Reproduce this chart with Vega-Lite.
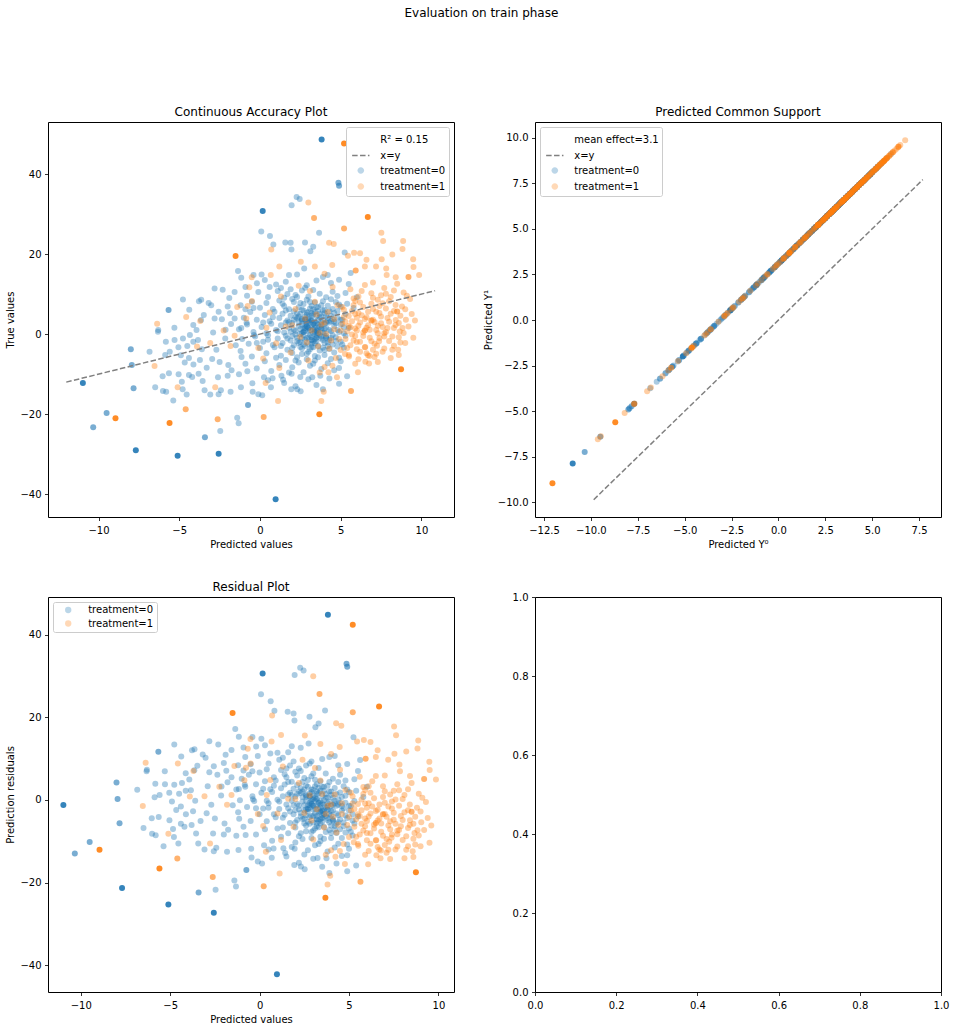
{
  "$schema": "https://vega.github.io/schema/vega-lite/v6.json",
  "title": {"text": "Evaluation on train phase", "anchor": "middle", "offset": 86, "dx": 4, "fontSize": 12, "fontWeight": "normal"},
  "padding": {"left": 5, "top": 6, "right": 12, "bottom": 5},
  "columns": 2,
  "spacing": {"row": 80, "column": 81},
  "bounds": "flush",
  "resolve": {
    "scale": {"color": "independent", "fill": "independent", "stroke": "independent", "shape": "independent", "strokeDash": "independent"},
    "legend": {"color": "independent", "fill": "independent", "stroke": "independent", "shape": "independent", "strokeDash": "independent"}
  },
  "datasets": {
    "lineA": [{"x": -12.0, "y": -12.0}, {"x": 10.85, "y": 10.85}],
    "lineB": [{"x": -9.85, "y": -9.85}, {"x": 7.7, "y": 7.7}],
    "blank": [{"x": 0, "y": 0}],
    "pts": [
      {"g":0,"p":3.82,"t":48.65,"r":44.83,"a":3.82,"b":6.92,"w":4},
      {"g":0,"p":4.86,"t":37.8,"r":32.94,"a":4.86,"b":7.96,"w":2},
      {"g":0,"p":4.9,"t":37.1,"r":32.2,"a":4.9,"b":8.0,"w":2},
      {"g":0,"p":2.27,"t":34.25,"r":31.98,"a":2.27,"b":5.37},
      {"g":0,"p":2.46,"t":33.75,"r":31.29,"a":2.46,"b":5.56},
      {"g":0,"p":1.96,"t":32.2,"r":30.24,"a":1.96,"b":5.06},
      {"g":0,"p":0.17,"t":30.75,"r":30.58,"a":0.17,"b":3.27,"w":4},
      {"g":0,"p":0.08,"t":25.65,"r":25.57,"a":0.08,"b":3.18},
      {"g":0,"p":0.62,"t":24.5,"r":23.88,"a":0.62,"b":3.72},
      {"g":0,"p":3.66,"t":25.3,"r":21.64,"a":3.66,"b":6.76},
      {"g":0,"p":0.83,"t":22.4,"r":21.57,"a":0.83,"b":3.93},
      {"g":0,"p":1.57,"t":22.9,"r":21.33,"a":1.57,"b":4.67},
      {"g":0,"p":1.9,"t":22.8,"r":20.9,"a":1.9,"b":5.0},
      {"g":0,"p":1.95,"t":21.15,"r":19.2,"a":1.95,"b":5.05},
      {"g":0,"p":2.79,"t":22.9,"r":20.11,"a":2.79,"b":5.89},
      {"g":0,"p":3.12,"t":20.7,"r":17.58,"a":3.12,"b":6.22},
      {"g":0,"p":3.3,"t":21.8,"r":18.5,"a":3.3,"b":6.4},
      {"g":0,"p":5.25,"t":20.4,"r":15.15,"a":5.25,"b":8.35},
      {"g":0,"p":5.62,"t":15.3,"r":9.68,"a":5.62,"b":8.72},
      {"g":0,"p":4.2,"t":14.8,"r":10.6,"a":4.2,"b":7.3},
      {"g":0,"p":2.74,"t":16.4,"r":13.66,"a":2.74,"b":5.84},
      {"g":0,"p":1.8,"t":14.8,"r":13.0,"a":1.8,"b":4.9},
      {"g":0,"p":0.1,"t":14.9,"r":14.8,"a":0.1,"b":3.2},
      {"g":0,"p":-1.36,"t":15.8,"r":17.16,"a":-1.36,"b":1.74},
      {"g":0,"p":-1.16,"t":14.1,"r":15.26,"a":-1.16,"b":1.94},
      {"g":0,"p":-2.81,"t":11.4,"r":14.21,"a":-2.81,"b":0.29},
      {"g":0,"p":-2.31,"t":11.1,"r":13.41,"a":-2.31,"b":0.79},
      {"g":0,"p":-1.57,"t":10.5,"r":12.07,"a":-1.57,"b":1.53},
      {"g":0,"p":-0.19,"t":12.7,"r":12.89,"a":-0.19,"b":2.91},
      {"g":0,"p":-4.77,"t":8.65,"r":13.42,"a":-4.77,"b":-1.67},
      {"g":0,"p":-5.66,"t":6.0,"r":11.66,"a":-5.66,"b":-2.56,"w":2},
      {"g":0,"p":-6.32,"t":0.6,"r":6.92,"a":-6.32,"b":-3.22},
      {"g":0,"p":-6.3,"t":1.0,"r":7.3,"a":-6.3,"b":-3.2},
      {"g":0,"p":-6.84,"t":-4.4,"r":2.44,"a":-6.84,"b":-3.74},
      {"g":0,"p":-8.0,"t":-3.8,"r":4.2,"a":-8.0,"b":-4.9,"w":2},
      {"g":0,"p":-7.94,"t":-7.7,"r":0.24,"a":-7.94,"b":-4.84,"w":2},
      {"g":0,"p":-10.97,"t":-12.2,"r":-1.23,"a":-10.97,"b":-7.87,"w":4},
      {"g":0,"p":-7.83,"t":-13.5,"r":-5.67,"a":-7.83,"b":-4.73,"w":2},
      {"g":0,"p":-9.5,"t":-19.7,"r":-10.2,"a":-9.5,"b":-6.4,"w":2},
      {"g":0,"p":-10.33,"t":-23.3,"r":-12.97,"a":-10.33,"b":-7.23,"w":2},
      {"g":0,"p":-7.69,"t":-29.0,"r":-21.31,"a":-7.69,"b":-4.59,"w":4},
      {"g":0,"p":-5.1,"t":-30.4,"r":-25.3,"a":-5.1,"b":-2.0,"w":4},
      {"g":0,"p":-2.56,"t":-29.9,"r":-27.34,"a":-2.56,"b":0.54,"w":4},
      {"g":0,"p":-3.41,"t":-25.8,"r":-22.39,"a":-3.41,"b":-0.31,"w":2},
      {"g":0,"p":-2.46,"t":-24.2,"r":-21.74,"a":-2.46,"b":0.64},
      {"g":0,"p":-1.41,"t":-20.9,"r":-19.49,"a":-1.41,"b":1.69},
      {"g":0,"p":-1.32,"t":-22.3,"r":-20.98,"a":-1.32,"b":1.78},
      {"g":0,"p":-0.74,"t":-17.7,"r":-16.96,"a":-0.74,"b":2.36,"w":2},
      {"g":0,"p":0.97,"t":-41.25,"r":-42.22,"a":0.97,"b":4.07,"w":4},
      {"g":0,"p":-6.03,"t":-10.5,"r":-4.47,"a":-6.03,"b":-2.93},
      {"g":0,"p":-5.64,"t":-9.8,"r":-4.16,"a":-5.64,"b":-2.54},
      {"g":0,"p":-6.49,"t":-13.3,"r":-6.81,"a":-6.49,"b":-3.39},
      {"g":0,"p":-6.01,"t":-14.2,"r":-8.19,"a":-6.01,"b":-2.91},
      {"g":0,"p":-5.81,"t":-14.4,"r":-8.59,"a":-5.81,"b":-2.71},
      {"g":0,"p":-5.37,"t":-16.6,"r":-11.23,"a":-5.37,"b":-2.27},
      {"g":0,"p":-4.79,"t":-13.8,"r":-9.01,"a":-4.79,"b":-1.69},
      {"g":0,"p":-4.54,"t":-15.1,"r":-10.56,"a":-4.54,"b":-1.44},
      {"g":0,"p":-4.84,"t":-11.9,"r":-7.06,"a":-4.84,"b":-1.74},
      {"g":0,"p":-5.04,"t":-10.0,"r":-4.96,"a":-5.04,"b":-1.94},
      {"g":0,"p":-4.4,"t":-10.2,"r":-5.8,"a":-4.4,"b":-1.3},
      {"g":0,"p":-4.2,"t":-10.7,"r":-6.5,"a":-4.2,"b":-1.1},
      {"g":0,"p":-3.8,"t":-9.9,"r":-6.1,"a":-3.8,"b":-0.7},
      {"g":0,"p":-3.55,"t":-11.7,"r":-8.15,"a":-3.55,"b":-0.45},
      {"g":0,"p":-3.43,"t":-14.0,"r":-10.57,"a":-3.43,"b":-0.33},
      {"g":0,"p":-3.08,"t":-15.1,"r":-12.02,"a":-3.08,"b":0.02},
      {"g":0,"p":-2.56,"t":-15.0,"r":-12.44,"a":-2.56,"b":0.54},
      {"g":0,"p":-2.42,"t":-14.0,"r":-11.58,"a":-2.42,"b":0.68},
      {"g":0,"p":-1.82,"t":-14.4,"r":-12.58,"a":-1.82,"b":1.28},
      {"g":0,"p":-1.18,"t":-13.3,"r":-12.12,"a":-1.18,"b":1.92},
      {"g":0,"p":-0.47,"t":-12.3,"r":-11.83,"a":-0.47,"b":2.63},
      {"g":0,"p":-0.45,"t":-14.4,"r":-13.95,"a":-0.45,"b":2.65},
      {"g":0,"p":-1.14,"t":-5.7,"r":-4.56,"a":-1.14,"b":1.96},
      {"g":0,"p":-1.76,"t":-9.0,"r":-7.24,"a":-1.76,"b":1.34},
      {"g":0,"p":-1.3,"t":-10.0,"r":-8.7,"a":-1.3,"b":1.8},
      {"g":0,"p":-0.78,"t":-9.3,"r":-8.52,"a":-0.78,"b":2.32},
      {"g":0,"p":-1.96,"t":-7.7,"r":-5.74,"a":-1.96,"b":1.14},
      {"g":0,"p":-2.6,"t":-10.75,"r":-8.15,"a":-2.6,"b":0.5},
      {"g":0,"p":-2.96,"t":-6.2,"r":-3.24,"a":-2.96,"b":0.14},
      {"g":0,"p":-3.3,"t":-8.4,"r":-5.1,"a":-3.3,"b":-0.2},
      {"g":0,"p":-3.72,"t":-6.5,"r":-2.78,"a":-3.72,"b":-0.62},
      {"g":0,"p":-4.12,"t":-7.6,"r":-3.48,"a":-4.12,"b":-1.02},
      {"g":0,"p":-4.4,"t":-6.0,"r":-1.6,"a":-4.4,"b":-1.3},
      {"g":0,"p":-4.66,"t":-7.1,"r":-2.44,"a":-4.66,"b":-1.56},
      {"g":0,"p":-4.9,"t":-5.3,"r":-0.4,"a":-4.9,"b":-1.8},
      {"g":0,"p":-5.87,"t":-5.25,"r":0.62,"a":-5.87,"b":-2.77},
      {"g":0,"p":-5.59,"t":-4.4,"r":1.19,"a":-5.59,"b":-2.49},
      {"g":0,"p":-5.29,"t":-1.5,"r":3.79,"a":-5.29,"b":-2.19},
      {"g":0,"p":-5.83,"t":-1.9,"r":3.93,"a":-5.83,"b":-2.73},
      {"g":0,"p":-4.77,"t":-1.1,"r":3.67,"a":-4.77,"b":-1.67},
      {"g":0,"p":-4.5,"t":-3.0,"r":1.5,"a":-4.5,"b":-1.4},
      {"g":0,"p":-4.13,"t":-1.9,"r":2.23,"a":-4.13,"b":-1.03},
      {"g":0,"p":-3.84,"t":-1.5,"r":2.34,"a":-3.84,"b":-0.74},
      {"g":0,"p":-4.34,"t":-0.25,"r":4.09,"a":-4.34,"b":-1.24},
      {"g":0,"p":-4.13,"t":2.3,"r":6.43,"a":-4.13,"b":-1.03},
      {"g":0,"p":-3.93,"t":1.0,"r":4.93,"a":-3.93,"b":-0.83},
      {"g":0,"p":-3.65,"t":3.5,"r":7.15,"a":-3.65,"b":-0.55},
      {"g":0,"p":-3.48,"t":4.8,"r":8.28,"a":-3.48,"b":-0.38},
      {"g":0,"p":-3.18,"t":7.8,"r":10.98,"a":-3.18,"b":-0.08},
      {"g":0,"p":-3.02,"t":7.2,"r":10.22,"a":-3.02,"b":0.08},
      {"g":0,"p":-3.64,"t":8.6,"r":12.24,"a":-3.64,"b":-0.54},
      {"g":0,"p":-2.81,"t":3.9,"r":6.71,"a":-2.81,"b":0.29},
      {"g":0,"p":-2.56,"t":5.6,"r":8.16,"a":-2.56,"b":0.54},
      {"g":0,"p":-2.36,"t":3.7,"r":6.06,"a":-2.36,"b":0.74},
      {"g":0,"p":-2.13,"t":1.1,"r":3.23,"a":-2.13,"b":0.97},
      {"g":0,"p":-1.79,"t":2.5,"r":4.29,"a":-1.79,"b":1.31},
      {"g":0,"p":-1.57,"t":3.9,"r":5.47,"a":-1.57,"b":1.53},
      {"g":0,"p":-1.86,"t":5.2,"r":7.06,"a":-1.86,"b":1.24},
      {"g":0,"p":-0.83,"t":2.85,"r":3.68,"a":-0.83,"b":2.27},
      {"g":0,"p":-0.4,"t":6.5,"r":6.9,"a":-0.4,"b":2.7},
      {"g":0,"p":-1.16,"t":1.5,"r":2.66,"a":-1.16,"b":1.94},
      {"g":0,"p":-0.37,"t":-0.2,"r":0.17,"a":-0.37,"b":2.73},
      {"g":0,"p":-2.15,"t":-1.1,"r":1.05,"a":-2.15,"b":0.95},
      {"g":0,"p":-2.5,"t":-7.0,"r":-4.5,"a":-2.5,"b":0.6},
      {"g":0,"p":-2.0,"t":-10.4,"r":-8.4,"a":-2.0,"b":1.1},
      {"g":0,"p":1.94,"t":-13.8,"r":-15.74,"a":1.94,"b":5.04},
      {"g":0,"p":2.31,"t":-13.8,"r":-16.11,"a":2.31,"b":5.41},
      {"g":0,"p":2.52,"t":-14.3,"r":-16.82,"a":2.52,"b":5.62},
      {"g":0,"p":0.14,"t":-15.25,"r":-15.39,"a":0.14,"b":3.24},
      {"g":0,"p":-0.1,"t":-15.0,"r":-14.9,"a":-0.1,"b":3.0},
      {"g":0,"p":0.68,"t":-13.3,"r":-13.98,"a":0.68,"b":3.78},
      {"g":0,"p":0.25,"t":-10.75,"r":-11.0,"a":0.25,"b":3.35},
      {"g":0,"p":0.78,"t":-11.0,"r":-11.78,"a":0.78,"b":3.88},
      {"g":0,"p":1.33,"t":-10.4,"r":-11.73,"a":1.33,"b":4.43},
      {"g":0,"p":1.43,"t":-11.4,"r":-12.83,"a":1.43,"b":4.53},
      {"g":0,"p":1.96,"t":-9.9,"r":-11.86,"a":1.96,"b":5.06},
      {"g":0,"p":3.0,"t":-11.25,"r":-14.25,"a":3.0,"b":6.1},
      {"g":0,"p":3.24,"t":-10.8,"r":-14.04,"a":3.24,"b":6.34},
      {"g":0,"p":3.74,"t":-10.4,"r":-14.14,"a":3.74,"b":6.84},
      {"g":0,"p":4.9,"t":-8.5,"r":-13.4,"a":4.9,"b":8.0},
      {"g":0,"p":-4.38,"t":6.1,"r":10.48,"a":-4.38,"b":-1.28},
      {"g":0,"p":-3.78,"t":8.2,"r":11.98,"a":-3.78,"b":-0.68},
      {"g":0,"p":-5.3,"t":1.6,"r":6.9,"a":-5.3,"b":-2.2},
      {"g":0,"p":-5.05,"t":-3.3,"r":1.75,"a":-5.05,"b":-1.95},
      {"g":0,"p":-2.9,"t":0.4,"r":3.3,"a":-2.9,"b":0.2},
      {"g":0,"p":-2.7,"t":-3.9,"r":-1.2,"a":-2.7,"b":0.4},
      {"g":0,"p":-1.5,"t":-2.8,"r":-1.3,"a":-1.5,"b":1.6},
      {"g":0,"p":-3.6,"t":-3.8,"r":-0.2,"a":-3.6,"b":-0.5},
      {"g":0,"p":-1.9,"t":9.0,"r":10.9,"a":-1.9,"b":1.2},
      {"g":0,"p":-0.9,"t":11.8,"r":12.7,"a":-0.9,"b":2.2},
      {"g":0,"p":-2.0,"t":6.9,"r":8.9,"a":-2.0,"b":1.1},
      {"g":0,"p":-0.4,"t":14.8,"r":15.2,"a":-0.4,"b":2.7},
      {"g":0,"p":0.3,"t":13.5,"r":13.2,"a":0.3,"b":3.4},
      {"g":0,"p":1.0,"t":12.4,"r":11.4,"a":1.0,"b":4.1},
      {"g":0,"p":1.6,"t":13.1,"r":11.5,"a":1.6,"b":4.7},
      {"g":0,"p":2.3,"t":14.9,"r":12.6,"a":2.3,"b":5.4},
      {"g":0,"p":2.9,"t":12.2,"r":9.3,"a":2.9,"b":6.0},
      {"g":0,"p":3.5,"t":13.4,"r":9.9,"a":3.5,"b":6.6},
      {"g":0,"p":3.9,"t":14.3,"r":10.4,"a":3.9,"b":7.0},
      {"g":0,"p":4.4,"t":12.8,"r":8.4,"a":4.4,"b":7.5},
      {"g":0,"p":4.9,"t":13.6,"r":8.7,"a":4.9,"b":8.0},
      {"g":0,"p":5.5,"t":12.5,"r":7.0,"a":5.5,"b":8.6},
      {"g":0,"p":0.6,"t":11.8,"r":11.2,"a":0.6,"b":3.7},
      {"g":0,"p":-0.8,"t":9.6,"r":10.4,"a":-0.8,"b":2.3},
      {"g":0,"p":-0.1,"t":10.5,"r":10.6,"a":-0.1,"b":3.0},
      {"g":0,"p":0.5,"t":9.3,"r":8.8,"a":0.5,"b":3.6},
      {"g":0,"p":1.1,"t":10.8,"r":9.7,"a":1.1,"b":4.2},
      {"g":0,"p":1.5,"t":9.1,"r":7.6,"a":1.5,"b":4.6},
      {"g":0,"p":1.9,"t":11.2,"r":9.3,"a":1.9,"b":5.0},
      {"g":0,"p":2.2,"t":9.8,"r":7.6,"a":2.2,"b":5.3},
      {"g":0,"p":2.6,"t":10.9,"r":8.3,"a":2.6,"b":5.7},
      {"g":0,"p":3.0,"t":9.4,"r":6.4,"a":3.0,"b":6.1},
      {"g":0,"p":3.3,"t":11.0,"r":7.7,"a":3.3,"b":6.4},
      {"g":0,"p":3.7,"t":10.1,"r":6.4,"a":3.7,"b":6.8},
      {"g":0,"p":4.1,"t":9.2,"r":5.1,"a":4.1,"b":7.2},
      {"g":0,"p":4.5,"t":10.6,"r":6.1,"a":4.5,"b":7.6},
      {"g":0,"p":4.8,"t":9.5,"r":4.7,"a":4.8,"b":7.9},
      {"g":0,"p":5.3,"t":10.3,"r":5.0,"a":5.3,"b":8.4},
      {"g":0,"p":6.0,"t":9.2,"r":3.2,"a":6.0,"b":9.1},
      {"g":0,"p":2.8,"t":11.6,"r":8.8,"a":2.8,"b":5.9},
      {"g":0,"p":1.3,"t":11.5,"r":10.2,"a":1.3,"b":4.4},
      {"g":0,"p":-1.2,"t":7.2,"r":8.4,"a":-1.2,"b":1.9},
      {"g":0,"p":-0.5,"t":8.1,"r":8.6,"a":-0.5,"b":2.6},
      {"g":0,"p":0.0,"t":6.6,"r":6.6,"a":0.0,"b":3.1},
      {"g":0,"p":0.4,"t":7.8,"r":7.4,"a":0.4,"b":3.5},
      {"g":0,"p":0.8,"t":6.3,"r":5.5,"a":0.8,"b":3.9},
      {"g":0,"p":1.2,"t":8.4,"r":7.2,"a":1.2,"b":4.3},
      {"g":0,"p":1.5,"t":7.0,"r":5.5,"a":1.5,"b":4.6},
      {"g":0,"p":1.8,"t":6.2,"r":4.4,"a":1.8,"b":4.9},
      {"g":0,"p":2.1,"t":8.0,"r":5.9,"a":2.1,"b":5.2},
      {"g":0,"p":2.4,"t":6.7,"r":4.3,"a":2.4,"b":5.5},
      {"g":0,"p":2.7,"t":7.5,"r":4.8,"a":2.7,"b":5.8},
      {"g":0,"p":2.9,"t":8.6,"r":5.7,"a":2.9,"b":6.0},
      {"g":0,"p":3.1,"t":6.4,"r":3.3,"a":3.1,"b":6.2},
      {"g":0,"p":3.4,"t":7.9,"r":4.5,"a":3.4,"b":6.5},
      {"g":0,"p":3.6,"t":6.8,"r":3.2,"a":3.6,"b":6.7},
      {"g":0,"p":3.9,"t":8.2,"r":4.3,"a":3.9,"b":7.0},
      {"g":0,"p":4.2,"t":7.1,"r":2.9,"a":4.2,"b":7.3},
      {"g":0,"p":4.5,"t":6.3,"r":1.8,"a":4.5,"b":7.6},
      {"g":0,"p":4.7,"t":8.0,"r":3.3,"a":4.7,"b":7.8},
      {"g":0,"p":5.0,"t":6.9,"r":1.9,"a":5.0,"b":8.1},
      {"g":0,"p":5.4,"t":7.6,"r":2.2,"a":5.4,"b":8.5},
      {"g":0,"p":5.8,"t":6.5,"r":0.7,"a":5.8,"b":8.9},
      {"g":0,"p":2.0,"t":8.8,"r":6.8,"a":2.0,"b":5.1},
      {"g":0,"p":3.2,"t":7.0,"r":3.8,"a":3.2,"b":6.3},
      {"g":0,"p":4.0,"t":6.0,"r":2.0,"a":4.0,"b":7.1},
      {"g":0,"p":-0.9,"t":6.2,"r":7.1,"a":-0.9,"b":2.2},
      {"g":0,"p":-1.0,"t":4.1,"r":5.1,"a":-1.0,"b":2.1},
      {"g":0,"p":-0.6,"t":5.5,"r":6.1,"a":-0.6,"b":2.5},
      {"g":0,"p":-0.2,"t":3.6,"r":3.8,"a":-0.2,"b":2.9},
      {"g":0,"p":0.3,"t":4.8,"r":4.5,"a":0.3,"b":3.4},
      {"g":0,"p":0.6,"t":3.2,"r":2.6,"a":0.6,"b":3.7},
      {"g":0,"p":0.9,"t":5.6,"r":4.7,"a":0.9,"b":4.0},
      {"g":0,"p":1.2,"t":4.0,"r":2.8,"a":1.2,"b":4.3},
      {"g":0,"p":1.4,"t":5.1,"r":3.7,"a":1.4,"b":4.5},
      {"g":0,"p":1.7,"t":3.4,"r":1.7,"a":1.7,"b":4.8},
      {"g":0,"p":1.9,"t":4.6,"r":2.7,"a":1.9,"b":5.0},
      {"g":0,"p":2.1,"t":5.7,"r":3.6,"a":2.1,"b":5.2},
      {"g":0,"p":2.3,"t":3.9,"r":1.6,"a":2.3,"b":5.4},
      {"g":0,"p":2.5,"t":5.0,"r":2.5,"a":2.5,"b":5.6},
      {"g":0,"p":2.6,"t":3.3,"r":0.7,"a":2.6,"b":5.7},
      {"g":0,"p":2.8,"t":4.4,"r":1.6,"a":2.8,"b":5.9},
      {"g":0,"p":3.0,"t":5.5,"r":2.5,"a":3.0,"b":6.1},
      {"g":0,"p":3.1,"t":3.7,"r":0.6,"a":3.1,"b":6.2},
      {"g":0,"p":3.3,"t":4.9,"r":1.6,"a":3.3,"b":6.4},
      {"g":0,"p":3.4,"t":3.1,"r":-0.3,"a":3.4,"b":6.5},
      {"g":0,"p":3.6,"t":5.8,"r":2.2,"a":3.6,"b":6.7},
      {"g":0,"p":3.7,"t":4.2,"r":0.5,"a":3.7,"b":6.8},
      {"g":0,"p":3.9,"t":3.5,"r":-0.4,"a":3.9,"b":7.0},
      {"g":0,"p":4.0,"t":5.2,"r":1.2,"a":4.0,"b":7.1},
      {"g":0,"p":4.2,"t":4.0,"r":-0.2,"a":4.2,"b":7.3},
      {"g":0,"p":4.4,"t":3.2,"r":-1.2,"a":4.4,"b":7.5},
      {"g":0,"p":4.6,"t":5.3,"r":0.7,"a":4.6,"b":7.7},
      {"g":0,"p":4.8,"t":4.1,"r":-0.7,"a":4.8,"b":7.9},
      {"g":0,"p":5.1,"t":3.6,"r":-1.5,"a":5.1,"b":8.2},
      {"g":0,"p":5.3,"t":5.0,"r":-0.3,"a":5.3,"b":8.4},
      {"g":0,"p":2.2,"t":4.3,"r":2.1,"a":2.2,"b":5.3},
      {"g":0,"p":2.9,"t":3.0,"r":0.1,"a":2.9,"b":6.0},
      {"g":0,"p":3.5,"t":4.5,"r":1.0,"a":3.5,"b":6.6},
      {"g":0,"p":2.7,"t":5.9,"r":3.2,"a":2.7,"b":5.8},
      {"g":0,"p":3.2,"t":5.2,"r":2.0,"a":3.2,"b":6.3},
      {"g":0,"p":4.3,"t":5.7,"r":1.4,"a":4.3,"b":7.4},
      {"g":0,"p":1.6,"t":5.9,"r":4.3,"a":1.6,"b":4.7},
      {"g":0,"p":-1.3,"t":1.2,"r":2.5,"a":-1.3,"b":1.8},
      {"g":0,"p":-0.8,"t":2.4,"r":3.2,"a":-0.8,"b":2.3},
      {"g":0,"p":-0.4,"t":0.5,"r":0.9,"a":-0.4,"b":2.7},
      {"g":0,"p":0.1,"t":1.8,"r":1.7,"a":0.1,"b":3.2},
      {"g":0,"p":0.4,"t":0.2,"r":-0.2,"a":0.4,"b":3.5},
      {"g":0,"p":0.7,"t":2.6,"r":1.9,"a":0.7,"b":3.8},
      {"g":0,"p":1.0,"t":1.0,"r":0.0,"a":1.0,"b":4.1},
      {"g":0,"p":1.3,"t":2.2,"r":0.9,"a":1.3,"b":4.4},
      {"g":0,"p":1.5,"t":0.4,"r":-1.1,"a":1.5,"b":4.6},
      {"g":0,"p":1.8,"t":1.6,"r":-0.2,"a":1.8,"b":4.9},
      {"g":0,"p":2.0,"t":2.8,"r":0.8,"a":2.0,"b":5.1},
      {"g":0,"p":2.2,"t":0.8,"r":-1.4,"a":2.2,"b":5.3},
      {"g":0,"p":2.4,"t":2.0,"r":-0.4,"a":2.4,"b":5.5},
      {"g":0,"p":2.6,"t":0.3,"r":-2.3,"a":2.6,"b":5.7},
      {"g":0,"p":2.7,"t":1.4,"r":-1.3,"a":2.7,"b":5.8},
      {"g":0,"p":2.9,"t":2.5,"r":-0.4,"a":2.9,"b":6.0},
      {"g":0,"p":3.0,"t":0.6,"r":-2.4,"a":3.0,"b":6.1},
      {"g":0,"p":3.2,"t":1.9,"r":-1.3,"a":3.2,"b":6.3},
      {"g":0,"p":3.3,"t":0.1,"r":-3.2,"a":3.3,"b":6.4},
      {"g":0,"p":3.5,"t":2.7,"r":-0.8,"a":3.5,"b":6.6},
      {"g":0,"p":3.6,"t":1.1,"r":-2.5,"a":3.6,"b":6.7},
      {"g":0,"p":3.8,"t":2.2,"r":-1.6,"a":3.8,"b":6.9},
      {"g":0,"p":3.9,"t":0.4,"r":-3.5,"a":3.9,"b":7.0},
      {"g":0,"p":4.1,"t":1.6,"r":-2.5,"a":4.1,"b":7.2},
      {"g":0,"p":4.3,"t":2.9,"r":-1.4,"a":4.3,"b":7.4},
      {"g":0,"p":4.4,"t":0.7,"r":-3.7,"a":4.4,"b":7.5},
      {"g":0,"p":4.6,"t":2.0,"r":-2.6,"a":4.6,"b":7.7},
      {"g":0,"p":4.8,"t":1.0,"r":-3.8,"a":4.8,"b":7.9},
      {"g":0,"p":5.0,"t":2.4,"r":-2.6,"a":5.0,"b":8.1},
      {"g":0,"p":5.2,"t":0.2,"r":-5.0,"a":5.2,"b":8.3},
      {"g":0,"p":2.5,"t":1.2,"r":-1.3,"a":2.5,"b":5.6},
      {"g":0,"p":3.1,"t":2.9,"r":-0.2,"a":3.1,"b":6.2},
      {"g":0,"p":3.4,"t":1.5,"r":-1.9,"a":3.4,"b":6.5},
      {"g":0,"p":2.8,"t":0.9,"r":-1.9,"a":2.8,"b":5.9},
      {"g":0,"p":4.0,"t":2.6,"r":-1.4,"a":4.0,"b":7.1},
      {"g":0,"p":5.5,"t":1.5,"r":-4.0,"a":5.5,"b":8.6},
      {"g":0,"p":-1.1,"t":-1.2,"r":-0.1,"a":-1.1,"b":2.0},
      {"g":0,"p":-0.7,"t":-2.4,"r":-1.7,"a":-0.7,"b":2.4},
      {"g":0,"p":-0.3,"t":-0.6,"r":-0.3,"a":-0.3,"b":2.8},
      {"g":0,"p":0.2,"t":-1.9,"r":-2.1,"a":0.2,"b":3.3},
      {"g":0,"p":0.5,"t":-0.3,"r":-0.8,"a":0.5,"b":3.6},
      {"g":0,"p":0.8,"t":-2.7,"r":-3.5,"a":0.8,"b":3.9},
      {"g":0,"p":1.1,"t":-1.1,"r":-2.2,"a":1.1,"b":4.2},
      {"g":0,"p":1.4,"t":-2.2,"r":-3.6,"a":1.4,"b":4.5},
      {"g":0,"p":1.6,"t":-0.4,"r":-2.0,"a":1.6,"b":4.7},
      {"g":0,"p":1.9,"t":-1.6,"r":-3.5,"a":1.9,"b":5.0},
      {"g":0,"p":2.1,"t":-2.8,"r":-4.9,"a":2.1,"b":5.2},
      {"g":0,"p":2.3,"t":-0.9,"r":-3.2,"a":2.3,"b":5.4},
      {"g":0,"p":2.5,"t":-2.0,"r":-4.5,"a":2.5,"b":5.6},
      {"g":0,"p":2.7,"t":-0.2,"r":-2.9,"a":2.7,"b":5.8},
      {"g":0,"p":2.8,"t":-1.4,"r":-4.2,"a":2.8,"b":5.9},
      {"g":0,"p":3.0,"t":-2.5,"r":-5.5,"a":3.0,"b":6.1},
      {"g":0,"p":3.2,"t":-0.7,"r":-3.9,"a":3.2,"b":6.3},
      {"g":0,"p":3.3,"t":-1.8,"r":-5.1,"a":3.3,"b":6.4},
      {"g":0,"p":3.5,"t":-0.3,"r":-3.8,"a":3.5,"b":6.6},
      {"g":0,"p":3.6,"t":-2.9,"r":-6.5,"a":3.6,"b":6.7},
      {"g":0,"p":3.8,"t":-1.1,"r":-4.9,"a":3.8,"b":6.9},
      {"g":0,"p":4.0,"t":-2.2,"r":-6.2,"a":4.0,"b":7.1},
      {"g":0,"p":4.1,"t":-0.5,"r":-4.6,"a":4.1,"b":7.2},
      {"g":0,"p":4.3,"t":-1.5,"r":-5.8,"a":4.3,"b":7.4},
      {"g":0,"p":4.5,"t":-2.6,"r":-7.1,"a":4.5,"b":7.6},
      {"g":0,"p":4.7,"t":-0.8,"r":-5.5,"a":4.7,"b":7.8},
      {"g":0,"p":5.0,"t":-1.9,"r":-6.9,"a":5.0,"b":8.1},
      {"g":0,"p":5.3,"t":-0.4,"r":-5.7,"a":5.3,"b":8.4},
      {"g":0,"p":2.9,"t":-1.0,"r":-3.9,"a":2.9,"b":6.0},
      {"g":0,"p":3.4,"t":-2.3,"r":-5.7,"a":3.4,"b":6.5},
      {"g":0,"p":2.2,"t":-0.1,"r":-2.3,"a":2.2,"b":5.3},
      {"g":0,"p":-1.2,"t":-4.2,"r":-3.0,"a":-1.2,"b":1.9},
      {"g":0,"p":-0.5,"t":-5.6,"r":-5.1,"a":-0.5,"b":2.6},
      {"g":0,"p":0.0,"t":-3.5,"r":-3.5,"a":0.0,"b":3.1},
      {"g":0,"p":0.4,"t":-4.8,"r":-5.2,"a":0.4,"b":3.5},
      {"g":0,"p":0.9,"t":-3.3,"r":-4.2,"a":0.9,"b":4.0},
      {"g":0,"p":1.3,"t":-5.4,"r":-6.7,"a":1.3,"b":4.4},
      {"g":0,"p":1.7,"t":-3.9,"r":-5.6,"a":1.7,"b":4.8},
      {"g":0,"p":2.0,"t":-4.7,"r":-6.7,"a":2.0,"b":5.1},
      {"g":0,"p":2.3,"t":-5.8,"r":-8.1,"a":2.3,"b":5.4},
      {"g":0,"p":2.6,"t":-3.6,"r":-6.2,"a":2.6,"b":5.7},
      {"g":0,"p":2.9,"t":-4.9,"r":-7.8,"a":2.9,"b":6.0},
      {"g":0,"p":3.2,"t":-3.2,"r":-6.4,"a":3.2,"b":6.3},
      {"g":0,"p":3.4,"t":-5.5,"r":-8.9,"a":3.4,"b":6.5},
      {"g":0,"p":3.7,"t":-4.1,"r":-7.8,"a":3.7,"b":6.8},
      {"g":0,"p":4.0,"t":-5.2,"r":-9.2,"a":4.0,"b":7.1},
      {"g":0,"p":4.3,"t":-3.7,"r":-8.0,"a":4.3,"b":7.4},
      {"g":0,"p":4.6,"t":-4.6,"r":-9.2,"a":4.6,"b":7.7},
      {"g":0,"p":4.9,"t":-5.9,"r":-10.8,"a":4.9,"b":8.0},
      {"g":0,"p":5.2,"t":-3.4,"r":-8.6,"a":5.2,"b":8.3},
      {"g":0,"p":1.0,"t":-5.9,"r":-6.9,"a":1.0,"b":4.1},
      {"g":0,"p":2.8,"t":-3.0,"r":-5.8,"a":2.8,"b":5.9},
      {"g":0,"p":-0.9,"t":-7.4,"r":-6.5,"a":-0.9,"b":2.2},
      {"g":0,"p":-0.2,"t":-8.6,"r":-8.4,"a":-0.2,"b":2.9},
      {"g":0,"p":0.3,"t":-6.8,"r":-7.1,"a":0.3,"b":3.4},
      {"g":0,"p":0.7,"t":-9.2,"r":-9.9,"a":0.7,"b":3.8},
      {"g":0,"p":1.2,"t":-7.7,"r":-8.9,"a":1.2,"b":4.3},
      {"g":0,"p":1.6,"t":-6.5,"r":-8.1,"a":1.6,"b":4.7},
      {"g":0,"p":2.0,"t":-8.3,"r":-10.3,"a":2.0,"b":5.1},
      {"g":0,"p":2.4,"t":-7.1,"r":-9.5,"a":2.4,"b":5.5},
      {"g":0,"p":2.7,"t":-9.5,"r":-12.2,"a":2.7,"b":5.8},
      {"g":0,"p":3.1,"t":-7.9,"r":-11.0,"a":3.1,"b":6.2},
      {"g":0,"p":3.4,"t":-6.6,"r":-10.0,"a":3.4,"b":6.5},
      {"g":0,"p":3.8,"t":-8.7,"r":-12.5,"a":3.8,"b":6.9},
      {"g":0,"p":4.2,"t":-7.3,"r":-11.5,"a":4.2,"b":7.3},
      {"g":0,"p":4.6,"t":-9.0,"r":-13.6,"a":4.6,"b":7.7},
      {"g":0,"p":5.0,"t":-6.8,"r":-11.8,"a":5.0,"b":8.1},
      {"g":0,"p":1.8,"t":-9.6,"r":-11.4,"a":1.8,"b":4.9},
      {"g":0,"p":2.9,"t":-6.3,"r":-9.2,"a":2.9,"b":6.0},
      {"g":0,"p":0.5,"t":-11.5,"r":-12.0,"a":0.5,"b":3.6},
      {"g":0,"p":1.5,"t":-12.2,"r":-13.7,"a":1.5,"b":4.6},
      {"g":0,"p":2.5,"t":-10.7,"r":-13.2,"a":2.5,"b":5.6},
      {"g":0,"p":3.5,"t":-12.7,"r":-16.2,"a":3.5,"b":6.6},
      {"g":0,"p":4.3,"t":-11.1,"r":-15.4,"a":4.3,"b":7.4},
      {"g":0,"p":4.9,"t":-12.4,"r":-17.3,"a":4.9,"b":8.0},
      {"g":0,"p":5.4,"t":-10.5,"r":-15.9,"a":5.4,"b":8.5},
      {"g":0,"p":2.2,"t":-13.0,"r":-15.2,"a":2.2,"b":5.3},
      {"g":0,"p":3.9,"t":-13.8,"r":-17.7,"a":3.9,"b":7.0},
      {"g":0,"p":2.1,"t":1.1,"r":-1.0,"a":2.1,"b":5.2},
      {"g":0,"p":2.4,"t":3.1,"r":0.7,"a":2.4,"b":5.5},
      {"g":0,"p":2.6,"t":-1.1,"r":-3.7,"a":2.6,"b":5.7},
      {"g":0,"p":2.8,"t":2.1,"r":-0.7,"a":2.8,"b":5.9},
      {"g":0,"p":3.0,"t":4.1,"r":1.1,"a":3.0,"b":6.1},
      {"g":0,"p":3.1,"t":-0.2,"r":-3.3,"a":3.1,"b":6.2},
      {"g":0,"p":3.3,"t":2.6,"r":-0.7,"a":3.3,"b":6.4,"w":2},
      {"g":0,"p":3.5,"t":0.9,"r":-2.6,"a":3.5,"b":6.6,"w":2},
      {"g":0,"p":3.6,"t":3.5,"r":-0.1,"a":3.6,"b":6.7},
      {"g":0,"p":3.8,"t":-0.6,"r":-4.4,"a":3.8,"b":6.9},
      {"g":0,"p":4.0,"t":1.3,"r":-2.7,"a":4.0,"b":7.1},
      {"g":0,"p":4.2,"t":3.3,"r":-0.9,"a":4.2,"b":7.3},
      {"g":0,"p":3.2,"t":-2.4,"r":-5.6,"a":3.2,"b":6.3},
      {"g":0,"p":2.9,"t":4.8,"r":1.9,"a":2.9,"b":6.0},
      {"g":0,"p":3.7,"t":5.1,"r":1.4,"a":3.7,"b":6.8},
      {"g":0,"p":3.4,"t":-1.2,"r":-4.6,"a":3.4,"b":6.5},
      {"g":0,"p":2.5,"t":-3.2,"r":-5.7,"a":2.5,"b":5.6},
      {"g":0,"p":3.9,"t":-3.4,"r":-7.3,"a":3.9,"b":7.0},
      {"g":0,"p":4.1,"t":4.6,"r":0.5,"a":4.1,"b":7.2},
      {"g":0,"p":2.3,"t":5.2,"r":2.9,"a":2.3,"b":5.4},
      {"g":0,"p":3.0,"t":1.6,"r":-1.4,"a":3.0,"b":6.1,"w":2},
      {"g":0,"p":3.2,"t":3.4,"r":0.2,"a":3.2,"b":6.3,"w":2},
      {"g":0,"p":3.5,"t":-0.9,"r":-4.4,"a":3.5,"b":6.6,"w":2},
      {"g":0,"p":2.7,"t":0.5,"r":-2.2,"a":2.7,"b":5.8,"w":2},
      {"g":0,"p":4.4,"t":-1.0,"r":-5.4,"a":4.4,"b":7.5},
      {"g":0,"p":3.3,"t":6.2,"r":2.9,"a":3.3,"b":6.4},
      {"g":0,"p":2.6,"t":2.4,"r":-0.2,"a":2.6,"b":5.7},
      {"g":0,"p":3.8,"t":4.4,"r":0.6,"a":3.8,"b":6.9},
      {"g":0,"p":2.0,"t":-0.5,"r":-2.5,"a":2.0,"b":5.1},
      {"g":0,"p":4.5,"t":3.8,"r":-0.7,"a":4.5,"b":7.6},
      {"g":0,"p":3.1,"t":-3.8,"r":-6.9,"a":3.1,"b":6.2},
      {"g":0,"p":3.6,"t":0.2,"r":-3.4,"a":3.6,"b":6.7,"w":2},
      {"g":0,"p":2.4,"t":-2.2,"r":-4.6,"a":2.4,"b":5.5},
      {"g":0,"p":4.2,"t":-3.0,"r":-7.2,"a":4.2,"b":7.3},
      {"g":0,"p":2.8,"t":3.6,"r":0.8,"a":2.8,"b":5.9,"w":2},
      {"g":0,"p":3.4,"t":5.6,"r":2.2,"a":3.4,"b":6.5},
      {"g":0,"p":1.8,"t":3.0,"r":1.2,"a":1.8,"b":4.9},
      {"g":0,"p":1.7,"t":-1.1,"r":-2.8,"a":1.7,"b":4.8},
      {"g":0,"p":4.7,"t":2.7,"r":-2.0,"a":4.7,"b":7.8},
      {"g":0,"p":4.8,"t":-3.1,"r":-7.9,"a":4.8,"b":7.9},
      {"g":0,"p":1.6,"t":2.9,"r":1.3,"a":1.6,"b":4.7},
      {"g":0,"p":1.9,"t":0.6,"r":-1.3,"a":1.9,"b":5.0},
      {"g":0,"p":2.1,"t":3.6,"r":1.5,"a":2.1,"b":5.2},
      {"g":0,"p":2.3,"t":-1.7,"r":-4.0,"a":2.3,"b":5.4},
      {"g":0,"p":2.4,"t":4.4,"r":2.0,"a":2.4,"b":5.5},
      {"g":0,"p":2.5,"t":0.0,"r":-2.5,"a":2.5,"b":5.6},
      {"g":0,"p":2.6,"t":6.1,"r":3.5,"a":2.6,"b":5.7},
      {"g":0,"p":2.7,"t":-2.6,"r":-5.3,"a":2.7,"b":5.8},
      {"g":0,"p":2.8,"t":1.5,"r":-1.3,"a":2.8,"b":5.9},
      {"g":0,"p":2.9,"t":5.4,"r":2.5,"a":2.9,"b":6.0},
      {"g":0,"p":3.0,"t":-0.9,"r":-3.9,"a":3.0,"b":6.1},
      {"g":0,"p":3.0,"t":3.2,"r":0.2,"a":3.0,"b":6.1},
      {"g":0,"p":3.1,"t":1.0,"r":-2.1,"a":3.1,"b":6.2},
      {"g":0,"p":3.2,"t":4.6,"r":1.4,"a":3.2,"b":6.3},
      {"g":0,"p":3.3,"t":-3.3,"r":-6.6,"a":3.3,"b":6.4},
      {"g":0,"p":3.3,"t":1.2,"r":-2.1,"a":3.3,"b":6.4},
      {"g":0,"p":3.4,"t":2.2,"r":-1.2,"a":3.4,"b":6.5},
      {"g":0,"p":3.5,"t":6.7,"r":3.2,"a":3.5,"b":6.6},
      {"g":0,"p":3.5,"t":-1.8,"r":-5.3,"a":3.5,"b":6.6},
      {"g":0,"p":3.6,"t":2.4,"r":-1.2,"a":3.6,"b":6.7},
      {"g":0,"p":3.7,"t":-0.2,"r":-3.9,"a":3.7,"b":6.8},
      {"g":0,"p":3.7,"t":1.8,"r":-1.9,"a":3.7,"b":6.8},
      {"g":0,"p":3.8,"t":3.0,"r":-0.8,"a":3.8,"b":6.9},
      {"g":0,"p":3.9,"t":-1.5,"r":-5.4,"a":3.9,"b":7.0},
      {"g":0,"p":3.9,"t":5.9,"r":2.0,"a":3.9,"b":7.0},
      {"g":0,"p":4.0,"t":0.3,"r":-3.7,"a":4.0,"b":7.1},
      {"g":0,"p":4.1,"t":2.9,"r":-1.2,"a":4.1,"b":7.2},
      {"g":0,"p":4.2,"t":-2.1,"r":-6.3,"a":4.2,"b":7.3},
      {"g":0,"p":4.3,"t":1.0,"r":-3.3,"a":4.3,"b":7.4},
      {"g":0,"p":4.4,"t":4.5,"r":0.1,"a":4.4,"b":7.5},
      {"g":0,"p":4.5,"t":-0.2,"r":-4.7,"a":4.5,"b":7.6},
      {"g":0,"p":4.6,"t":3.1,"r":-1.5,"a":4.6,"b":7.7},
      {"g":0,"p":4.7,"t":-1.7,"r":-6.4,"a":4.7,"b":7.8},
      {"g":0,"p":4.8,"t":5.8,"r":1.0,"a":4.8,"b":7.9},
      {"g":0,"p":4.9,"t":0.5,"r":-4.4,"a":4.9,"b":8.0},
      {"g":0,"p":5.0,"t":3.6,"r":-1.4,"a":5.0,"b":8.1},
      {"g":0,"p":5.1,"t":-2.6,"r":-7.7,"a":5.1,"b":8.2},
      {"g":0,"p":5.2,"t":1.7,"r":-3.5,"a":5.2,"b":8.3},
      {"g":0,"p":2.0,"t":-3.5,"r":-5.5,"a":2.0,"b":5.1},
      {"g":0,"p":2.2,"t":-6.6,"r":-8.8,"a":2.2,"b":5.3},
      {"g":0,"p":2.6,"t":-5.0,"r":-7.6,"a":2.6,"b":5.7},
      {"g":0,"p":3.0,"t":-4.4,"r":-7.4,"a":3.0,"b":6.1},
      {"g":0,"p":3.3,"t":-7.4,"r":-10.7,"a":3.3,"b":6.4},
      {"g":0,"p":3.6,"t":-5.8,"r":-9.4,"a":3.6,"b":6.7},
      {"g":0,"p":4.0,"t":-4.0,"r":-8.0,"a":4.0,"b":7.1},
      {"g":0,"p":4.4,"t":-6.2,"r":-10.6,"a":4.4,"b":7.5},
      {"g":0,"p":1.3,"t":-3.0,"r":-4.3,"a":1.3,"b":4.4},
      {"g":0,"p":1.1,"t":0.7,"r":-0.4,"a":1.1,"b":4.2},
      {"g":0,"p":0.8,"t":4.2,"r":3.4,"a":0.8,"b":3.9},
      {"g":0,"p":0.5,"t":-1.4,"r":-1.9,"a":0.5,"b":3.6},
      {"g":0,"p":0.2,"t":2.9,"r":2.7,"a":0.2,"b":3.3},
      {"g":0,"p":-0.2,"t":-2.2,"r":-2.0,"a":-0.2,"b":2.9},
      {"g":0,"p":1.4,"t":7.6,"r":6.2,"a":1.4,"b":4.5},
      {"g":0,"p":2.3,"t":9.3,"r":7.0,"a":2.3,"b":5.4},
      {"g":0,"p":3.1,"t":8.0,"r":4.9,"a":3.1,"b":6.2},
      {"g":0,"p":3.8,"t":7.2,"r":3.4,"a":3.8,"b":6.9},
      {"g":0,"p":4.4,"t":8.7,"r":4.3,"a":4.4,"b":7.5},
      {"g":0,"p":1.7,"t":10.0,"r":8.3,"a":1.7,"b":4.8},
      {"g":0,"p":2.5,"t":7.8,"r":5.3,"a":2.5,"b":5.6},
      {"g":0,"p":4.9,"t":7.4,"r":2.5,"a":4.9,"b":8.0},
      {"g":0,"p":3.4,"t":0.5,"r":-2.9,"a":3.4,"b":6.5,"w":2},
      {"g":0,"p":2.9,"t":1.9,"r":-1.0,"a":2.9,"b":6.0,"w":2},
      {"g":0,"p":3.8,"t":1.4,"r":-2.4,"a":3.8,"b":6.9,"w":2},
      {"g":0,"p":3.2,"t":-1.5,"r":-4.7,"a":3.2,"b":6.3,"w":2},
      {"g":0,"p":4.1,"t":-0.9,"r":-5.0,"a":4.1,"b":7.2,"w":2},
      {"g":0,"p":2.6,"t":3.7,"r":1.1,"a":2.6,"b":5.7,"w":2},
      {"g":1,"p":5.21,"t":47.6,"r":42.39,"a":2.11,"b":5.21,"w":4},
      {"g":1,"p":3.0,"t":32.9,"r":29.9,"a":-0.1,"b":3.0},
      {"g":1,"p":3.35,"t":29.0,"r":25.65,"a":0.25,"b":3.35,"w":2},
      {"g":1,"p":6.68,"t":29.25,"r":22.57,"a":3.58,"b":6.68,"w":4},
      {"g":1,"p":5.21,"t":26.4,"r":21.19,"a":2.11,"b":5.21,"w":2},
      {"g":1,"p":7.52,"t":25.3,"r":17.78,"a":4.42,"b":7.52},
      {"g":1,"p":-1.51,"t":19.5,"r":21.01,"a":-4.61,"b":-1.51,"w":4},
      {"g":1,"p":8.74,"t":-8.75,"r":-17.49,"a":5.64,"b":8.74,"w":4},
      {"g":1,"p":3.68,"t":-20.0,"r":-23.68,"a":0.58,"b":3.68,"w":4},
      {"g":1,"p":3.8,"t":-16.7,"r":-20.5,"a":0.7,"b":3.8},
      {"g":1,"p":3.95,"t":-14.4,"r":-18.35,"a":0.85,"b":3.95},
      {"g":1,"p":5.64,"t":-14.2,"r":-19.84,"a":2.54,"b":5.64,"w":2},
      {"g":1,"p":1.12,"t":-16.7,"r":-17.82,"a":-1.98,"b":1.12},
      {"g":1,"p":0.23,"t":-20.7,"r":-20.93,"a":-2.87,"b":0.23,"w":2},
      {"g":1,"p":-2.62,"t":-21.3,"r":-18.68,"a":-5.72,"b":-2.62,"w":2},
      {"g":1,"p":-5.6,"t":-22.2,"r":-16.6,"a":-8.7,"b":-5.6,"w":4},
      {"g":1,"p":-4.6,"t":-18.8,"r":-14.2,"a":-7.7,"b":-4.6,"w":2},
      {"g":1,"p":-8.95,"t":-21.0,"r":-12.05,"a":-12.05,"b":-8.95,"w":4},
      {"g":1,"p":-6.53,"t":-8.0,"r":-1.47,"a":-9.63,"b":-6.53},
      {"g":1,"p":-6.37,"t":2.6,"r":8.97,"a":-9.47,"b":-6.37},
      {"g":1,"p":-5.1,"t":-13.3,"r":-8.2,"a":-8.2,"b":-5.1},
      {"g":1,"p":-2.77,"t":-13.3,"r":-10.53,"a":-5.87,"b":-2.77},
      {"g":1,"p":0.35,"t":-12.2,"r":-12.55,"a":-2.75,"b":0.35},
      {"g":1,"p":6.07,"t":-9.5,"r":-15.57,"a":2.97,"b":6.07},
      {"g":1,"p":6.53,"t":-6.9,"r":-13.43,"a":3.43,"b":6.53},
      {"g":1,"p":6.76,"t":-7.35,"r":-14.11,"a":3.66,"b":6.76},
      {"g":1,"p":8.56,"t":-3.9,"r":-12.46,"a":5.46,"b":8.56},
      {"g":1,"p":7.63,"t":23.25,"r":15.62,"a":4.53,"b":7.63},
      {"g":1,"p":8.87,"t":23.25,"r":14.38,"a":5.77,"b":8.87},
      {"g":1,"p":8.83,"t":21.25,"r":12.42,"a":5.73,"b":8.83},
      {"g":1,"p":8.2,"t":19.9,"r":11.7,"a":5.1,"b":8.2},
      {"g":1,"p":7.54,"t":18.7,"r":11.16,"a":4.44,"b":7.54},
      {"g":1,"p":7.82,"t":16.4,"r":8.58,"a":4.72,"b":7.82},
      {"g":1,"p":7.19,"t":16.9,"r":9.71,"a":4.09,"b":7.19},
      {"g":1,"p":6.6,"t":18.6,"r":12.0,"a":3.5,"b":6.6},
      {"g":1,"p":6.5,"t":16.9,"r":10.4,"a":3.4,"b":6.5},
      {"g":1,"p":9.49,"t":18.7,"r":9.21,"a":6.39,"b":9.49},
      {"g":1,"p":9.51,"t":16.75,"r":7.24,"a":6.41,"b":9.51},
      {"g":1,"p":9.86,"t":14.8,"r":4.94,"a":6.76,"b":9.86},
      {"g":1,"p":9.2,"t":14.25,"r":5.05,"a":6.1,"b":9.2,"w":2},
      {"g":1,"p":8.41,"t":14.2,"r":5.79,"a":5.31,"b":8.41},
      {"g":1,"p":7.85,"t":14.8,"r":6.95,"a":4.75,"b":7.85},
      {"g":1,"p":5.93,"t":15.9,"r":9.97,"a":2.83,"b":5.93,"w":2},
      {"g":1,"p":4.48,"t":17.25,"r":12.77,"a":1.38,"b":4.48},
      {"g":1,"p":4.0,"t":15.1,"r":11.1,"a":0.9,"b":4.0},
      {"g":1,"p":3.4,"t":16.9,"r":13.5,"a":0.3,"b":3.4},
      {"g":1,"p":2.53,"t":18.1,"r":15.57,"a":-0.57,"b":2.53},
      {"g":1,"p":1.2,"t":16.9,"r":15.7,"a":-1.9,"b":1.2},
      {"g":1,"p":0.67,"t":14.8,"r":14.13,"a":-2.43,"b":0.67},
      {"g":1,"p":-0.51,"t":14.2,"r":14.71,"a":-3.61,"b":-0.51},
      {"g":1,"p":0.7,"t":21.15,"r":20.45,"a":-2.4,"b":0.7},
      {"g":1,"p":4.28,"t":22.8,"r":18.52,"a":1.18,"b":4.28},
      {"g":1,"p":4.57,"t":22.5,"r":17.93,"a":1.47,"b":4.57},
      {"g":1,"p":5.45,"t":19.6,"r":14.15,"a":2.35,"b":5.45},
      {"g":1,"p":5.83,"t":20.3,"r":14.47,"a":2.73,"b":5.83},
      {"g":1,"p":6.2,"t":20.2,"r":14.0,"a":3.1,"b":6.2},
      {"g":1,"p":-0.66,"t":11.7,"r":12.36,"a":-3.76,"b":-0.66},
      {"g":1,"p":-4.57,"t":4.25,"r":8.82,"a":-7.67,"b":-4.57},
      {"g":1,"p":-3.08,"t":-2.2,"r":0.88,"a":-6.18,"b":-3.08},
      {"g":1,"p":-3.9,"t":-3.1,"r":0.8,"a":-7.0,"b":-3.9},
      {"g":1,"p":-3.7,"t":3.3,"r":7.0,"a":-6.8,"b":-3.7},
      {"g":1,"p":-1.41,"t":6.8,"r":8.21,"a":-4.51,"b":-1.41},
      {"g":1,"p":-0.76,"t":7.0,"r":7.76,"a":-3.86,"b":-0.76},
      {"g":1,"p":-0.85,"t":3.9,"r":4.75,"a":-3.95,"b":-0.85},
      {"g":1,"p":-1.57,"t":-0.4,"r":1.17,"a":-4.67,"b":-1.57},
      {"g":1,"p":-1.82,"t":-3.0,"r":-1.18,"a":-4.92,"b":-1.82},
      {"g":1,"p":-2.25,"t":0.9,"r":3.15,"a":-5.35,"b":-2.25},
      {"g":1,"p":8.7,"t":-2.1,"r":-10.8,"a":5.6,"b":8.7},
      {"g":1,"p":7.38,"t":-1.8,"r":-9.18,"a":4.28,"b":7.38},
      {"g":1,"p":7.25,"t":-2.9,"r":-10.15,"a":4.15,"b":7.25},
      {"g":1,"p":8.2,"t":-0.6,"r":-8.8,"a":5.1,"b":8.2},
      {"g":1,"p":8.83,"t":1.5,"r":-7.33,"a":5.73,"b":8.83},
      {"g":1,"p":9.04,"t":3.6,"r":-5.44,"a":5.94,"b":9.04},
      {"g":1,"p":8.41,"t":3.5,"r":-4.91,"a":5.31,"b":8.41},
      {"g":1,"p":8.5,"t":5.65,"r":-2.85,"a":5.4,"b":8.5,"w":2},
      {"g":1,"p":8.66,"t":0.65,"r":-8.01,"a":5.56,"b":8.66},
      {"g":1,"p":7.9,"t":1.5,"r":-6.4,"a":4.8,"b":7.9},
      {"g":1,"p":7.7,"t":0.2,"r":-7.5,"a":4.6,"b":7.7},
      {"g":1,"p":6.52,"t":-3.25,"r":-9.77,"a":3.42,"b":6.52},
      {"g":1,"p":6.69,"t":-5.3,"r":-11.99,"a":3.59,"b":6.69},
      {"g":1,"p":5.52,"t":-5.6,"r":-11.12,"a":2.42,"b":5.52},
      {"g":1,"p":5.27,"t":-5.0,"r":-10.27,"a":2.17,"b":5.27},
      {"g":1,"p":4.24,"t":-9.5,"r":-13.74,"a":1.14,"b":4.24},
      {"g":1,"p":4.77,"t":-10.75,"r":-15.52,"a":1.67,"b":4.77},
      {"g":1,"p":4.49,"t":-7.9,"r":-12.39,"a":1.39,"b":4.49},
      {"g":1,"p":6.78,"t":-5.5,"r":-12.28,"a":3.68,"b":6.78},
      {"g":1,"p":5.6,"t":11.2,"r":5.6,"a":2.5,"b":5.6},
      {"g":1,"p":6.1,"t":9.4,"r":3.3,"a":3.0,"b":6.1},
      {"g":1,"p":6.5,"t":12.3,"r":5.8,"a":3.4,"b":6.5},
      {"g":1,"p":6.9,"t":10.2,"r":3.3,"a":3.8,"b":6.9},
      {"g":1,"p":7.3,"t":8.6,"r":1.3,"a":4.2,"b":7.3},
      {"g":1,"p":7.7,"t":11.5,"r":3.8,"a":4.6,"b":7.7},
      {"g":1,"p":8.1,"t":9.3,"r":1.2,"a":5.0,"b":8.1},
      {"g":1,"p":8.5,"t":12.6,"r":4.1,"a":5.4,"b":8.5},
      {"g":1,"p":8.9,"t":10.4,"r":1.5,"a":5.8,"b":8.9},
      {"g":1,"p":9.3,"t":8.8,"r":-0.5,"a":6.2,"b":9.3},
      {"g":1,"p":5.9,"t":8.3,"r":2.4,"a":2.8,"b":5.9},
      {"g":1,"p":7.0,"t":12.9,"r":5.9,"a":3.9,"b":7.0},
      {"g":1,"p":8.3,"t":10.9,"r":2.6,"a":5.2,"b":8.3},
      {"g":1,"p":6.3,"t":10.8,"r":4.5,"a":3.2,"b":6.3},
      {"g":1,"p":7.5,"t":9.7,"r":2.2,"a":4.4,"b":7.5},
      {"g":1,"p":5.2,"t":6.1,"r":0.9,"a":2.1,"b":5.2},
      {"g":1,"p":5.5,"t":4.5,"r":-1.0,"a":2.4,"b":5.5},
      {"g":1,"p":5.8,"t":7.2,"r":1.4,"a":2.7,"b":5.8},
      {"g":1,"p":6.1,"t":5.3,"r":-0.8,"a":3.0,"b":6.1},
      {"g":1,"p":6.4,"t":6.8,"r":0.4,"a":3.3,"b":6.4},
      {"g":1,"p":6.6,"t":4.2,"r":-2.4,"a":3.5,"b":6.6},
      {"g":1,"p":6.9,"t":7.6,"r":0.7,"a":3.8,"b":6.9},
      {"g":1,"p":7.2,"t":5.6,"r":-1.6,"a":4.1,"b":7.2},
      {"g":1,"p":7.5,"t":4.4,"r":-3.1,"a":4.4,"b":7.5},
      {"g":1,"p":7.8,"t":6.4,"r":-1.4,"a":4.7,"b":7.8},
      {"g":1,"p":8.1,"t":5.1,"r":-3.0,"a":5.0,"b":8.1},
      {"g":1,"p":8.4,"t":7.3,"r":-1.1,"a":5.3,"b":8.4},
      {"g":1,"p":8.7,"t":4.6,"r":-4.1,"a":5.6,"b":8.7},
      {"g":1,"p":9.0,"t":6.2,"r":-2.8,"a":5.9,"b":9.0},
      {"g":1,"p":9.4,"t":5.0,"r":-4.4,"a":6.3,"b":9.4},
      {"g":1,"p":5.7,"t":5.8,"r":0.1,"a":2.6,"b":5.7},
      {"g":1,"p":6.2,"t":7.9,"r":1.7,"a":3.1,"b":6.2},
      {"g":1,"p":7.0,"t":6.3,"r":-0.7,"a":3.9,"b":7.0},
      {"g":1,"p":7.6,"t":7.7,"r":0.1,"a":4.5,"b":7.6},
      {"g":1,"p":8.3,"t":5.8,"r":-2.5,"a":5.2,"b":8.3},
      {"g":1,"p":6.0,"t":4.1,"r":-1.9,"a":2.9,"b":6.0},
      {"g":1,"p":7.4,"t":5.3,"r":-2.1,"a":4.3,"b":7.4},
      {"g":1,"p":5.1,"t":2.5,"r":-2.6,"a":2.0,"b":5.1},
      {"g":1,"p":5.4,"t":0.7,"r":-4.7,"a":2.3,"b":5.4},
      {"g":1,"p":5.7,"t":3.2,"r":-2.5,"a":2.6,"b":5.7},
      {"g":1,"p":5.9,"t":1.4,"r":-4.5,"a":2.8,"b":5.9},
      {"g":1,"p":6.2,"t":2.9,"r":-3.3,"a":3.1,"b":6.2},
      {"g":1,"p":6.4,"t":0.4,"r":-6.0,"a":3.3,"b":6.4},
      {"g":1,"p":6.7,"t":2.2,"r":-4.5,"a":3.6,"b":6.7},
      {"g":1,"p":7.0,"t":3.6,"r":-3.4,"a":3.9,"b":7.0},
      {"g":1,"p":7.2,"t":1.0,"r":-6.2,"a":4.1,"b":7.2},
      {"g":1,"p":7.5,"t":2.7,"r":-4.8,"a":4.4,"b":7.5},
      {"g":1,"p":7.8,"t":0.5,"r":-7.3,"a":4.7,"b":7.8},
      {"g":1,"p":8.0,"t":3.1,"r":-4.9,"a":4.9,"b":8.0},
      {"g":1,"p":8.3,"t":1.5,"r":-6.8,"a":5.2,"b":8.3},
      {"g":1,"p":8.6,"t":2.8,"r":-5.8,"a":5.5,"b":8.6},
      {"g":1,"p":8.9,"t":0.3,"r":-8.6,"a":5.8,"b":8.9},
      {"g":1,"p":9.2,"t":1.9,"r":-7.3,"a":6.1,"b":9.2},
      {"g":1,"p":9.6,"t":3.4,"r":-6.2,"a":6.5,"b":9.6},
      {"g":1,"p":6.0,"t":0.9,"r":-5.1,"a":2.9,"b":6.0},
      {"g":1,"p":6.5,"t":3.8,"r":-2.7,"a":3.4,"b":6.5},
      {"g":1,"p":7.3,"t":0.2,"r":-7.1,"a":4.2,"b":7.3},
      {"g":1,"p":5.5,"t":2.0,"r":-3.5,"a":2.4,"b":5.5},
      {"g":1,"p":6.8,"t":1.1,"r":-5.7,"a":3.7,"b":6.8},
      {"g":1,"p":5.3,"t":-1.2,"r":-6.5,"a":2.2,"b":5.3},
      {"g":1,"p":5.6,"t":-2.8,"r":-8.4,"a":2.5,"b":5.6},
      {"g":1,"p":5.9,"t":-0.5,"r":-6.4,"a":2.8,"b":5.9},
      {"g":1,"p":6.2,"t":-1.9,"r":-8.1,"a":3.1,"b":6.2},
      {"g":1,"p":6.5,"t":-3.3,"r":-9.8,"a":3.4,"b":6.5},
      {"g":1,"p":6.8,"t":-0.9,"r":-7.7,"a":3.7,"b":6.8},
      {"g":1,"p":7.1,"t":-2.4,"r":-9.5,"a":4.0,"b":7.1},
      {"g":1,"p":7.4,"t":-1.0,"r":-8.4,"a":4.3,"b":7.4},
      {"g":1,"p":7.7,"t":-3.6,"r":-11.3,"a":4.6,"b":7.7},
      {"g":1,"p":8.0,"t":-1.7,"r":-9.7,"a":4.9,"b":8.0},
      {"g":1,"p":8.3,"t":-2.9,"r":-11.2,"a":5.2,"b":8.3},
      {"g":1,"p":8.6,"t":-0.8,"r":-9.4,"a":5.5,"b":8.6},
      {"g":1,"p":9.0,"t":-2.2,"r":-11.2,"a":5.9,"b":9.0},
      {"g":1,"p":6.0,"t":-3.8,"r":-9.8,"a":2.9,"b":6.0},
      {"g":1,"p":7.0,"t":-3.9,"r":-10.9,"a":3.9,"b":7.0},
      {"g":1,"p":5.8,"t":-1.6,"r":-7.4,"a":2.7,"b":5.8},
      {"g":1,"p":5.5,"t":-5.2,"r":-10.7,"a":2.4,"b":5.5},
      {"g":1,"p":6.1,"t":-6.3,"r":-12.4,"a":3.0,"b":6.1},
      {"g":1,"p":6.6,"t":-4.8,"r":-11.4,"a":3.5,"b":6.6},
      {"g":1,"p":7.1,"t":-5.7,"r":-12.8,"a":4.0,"b":7.1},
      {"g":1,"p":7.6,"t":-4.4,"r":-12.0,"a":4.5,"b":7.6},
      {"g":1,"p":8.1,"t":-6.0,"r":-14.1,"a":5.0,"b":8.1},
      {"g":1,"p":5.9,"t":-7.4,"r":-13.3,"a":2.8,"b":5.9},
      {"g":1,"p":7.3,"t":-7.0,"r":-14.3,"a":4.2,"b":7.3},
      {"g":1,"p":-0.5,"t":8.3,"r":8.8,"a":-3.6,"b":-0.5},
      {"g":1,"p":0.2,"t":-6.1,"r":-6.3,"a":-2.9,"b":0.2},
      {"g":1,"p":0.6,"t":5.4,"r":4.8,"a":-2.5,"b":0.6},
      {"g":1,"p":1.0,"t":-2.3,"r":-3.3,"a":-2.1,"b":1.0},
      {"g":1,"p":1.3,"t":9.4,"r":8.1,"a":-1.8,"b":1.3},
      {"g":1,"p":1.6,"t":1.9,"r":0.3,"a":-1.5,"b":1.6},
      {"g":1,"p":1.9,"t":-4.6,"r":-6.5,"a":-1.2,"b":1.9},
      {"g":1,"p":2.2,"t":6.3,"r":4.1,"a":-0.9,"b":2.2},
      {"g":1,"p":2.5,"t":-0.7,"r":-3.2,"a":-0.6,"b":2.5},
      {"g":1,"p":2.8,"t":3.9,"r":1.1,"a":-0.3,"b":2.8},
      {"g":1,"p":3.0,"t":-6.6,"r":-9.6,"a":-0.1,"b":3.0},
      {"g":1,"p":3.2,"t":0.9,"r":-2.3,"a":0.1,"b":3.2},
      {"g":1,"p":3.4,"t":8.1,"r":4.7,"a":0.3,"b":3.4},
      {"g":1,"p":3.6,"t":-3.1,"r":-6.7,"a":0.5,"b":3.6},
      {"g":1,"p":3.8,"t":2.4,"r":-1.4,"a":0.7,"b":3.8},
      {"g":1,"p":4.0,"t":-8.2,"r":-12.2,"a":0.9,"b":4.0},
      {"g":1,"p":4.2,"t":5.5,"r":1.3,"a":1.1,"b":4.2},
      {"g":1,"p":4.4,"t":-1.6,"r":-6.0,"a":1.3,"b":4.4},
      {"g":1,"p":4.6,"t":1.2,"r":-3.4,"a":1.5,"b":4.6},
      {"g":1,"p":4.8,"t":7.2,"r":2.4,"a":1.7,"b":4.8},
      {"g":1,"p":5.0,"t":-4.0,"r":-9.0,"a":1.9,"b":5.0},
      {"g":1,"p":2.0,"t":2.2,"r":0.2,"a":-1.1,"b":2.0},
      {"g":1,"p":2.9,"t":-2.1,"r":-5.0,"a":-0.2,"b":2.9},
      {"g":1,"p":3.5,"t":4.9,"r":1.4,"a":0.4,"b":3.5},
      {"g":1,"p":4.1,"t":0.0,"r":-4.1,"a":1.0,"b":4.1},
      {"g":1,"p":4.7,"t":-6.0,"r":-10.7,"a":1.6,"b":4.7},
      {"g":1,"p":1.2,"t":-8.5,"r":-9.7,"a":-1.9,"b":1.2},
      {"g":1,"p":0.4,"t":1.6,"r":1.2,"a":-2.7,"b":0.4},
      {"g":1,"p":-0.1,"t":-3.5,"r":-3.4,"a":-3.2,"b":-0.1},
      {"g":1,"p":3.1,"t":10.8,"r":7.7,"a":0.0,"b":3.1},
      {"g":1,"p":2.4,"t":12.1,"r":9.7,"a":-0.7,"b":2.4},
      {"g":1,"p":3.7,"t":-9.6,"r":-13.3,"a":0.6,"b":3.7},
      {"g":1,"p":4.5,"t":11.8,"r":7.3,"a":1.4,"b":4.5},
      {"g":1,"p":5.0,"t":0.9,"r":-4.1,"a":1.9,"b":5.0},
      {"g":1,"p":5.2,"t":4.3,"r":-0.9,"a":2.1,"b":5.2},
      {"g":1,"p":5.4,"t":-3.5,"r":-8.9,"a":2.3,"b":5.4},
      {"g":1,"p":5.6,"t":1.7,"r":-3.9,"a":2.5,"b":5.6},
      {"g":1,"p":5.8,"t":8.9,"r":3.1,"a":2.7,"b":5.8},
      {"g":1,"p":6.0,"t":-2.0,"r":-8.0,"a":2.9,"b":6.0},
      {"g":1,"p":6.1,"t":2.1,"r":-4.0,"a":3.0,"b":6.1},
      {"g":1,"p":6.3,"t":4.7,"r":-1.6,"a":3.2,"b":6.3},
      {"g":1,"p":6.4,"t":-0.5,"r":-6.9,"a":3.3,"b":6.4},
      {"g":1,"p":6.6,"t":1.6,"r":-5.0,"a":3.5,"b":6.6},
      {"g":1,"p":6.7,"t":5.6,"r":-1.1,"a":3.6,"b":6.7},
      {"g":1,"p":6.9,"t":-1.8,"r":-8.7,"a":3.8,"b":6.9},
      {"g":1,"p":7.1,"t":3.0,"r":-4.1,"a":4.0,"b":7.1},
      {"g":1,"p":7.2,"t":-4.9,"r":-12.1,"a":4.1,"b":7.2},
      {"g":1,"p":7.4,"t":7.0,"r":-0.4,"a":4.3,"b":7.4},
      {"g":1,"p":7.6,"t":1.8,"r":-5.8,"a":4.5,"b":7.6},
      {"g":1,"p":7.7,"t":-0.6,"r":-8.3,"a":4.6,"b":7.7},
      {"g":1,"p":7.9,"t":4.0,"r":-3.9,"a":4.8,"b":7.9},
      {"g":1,"p":8.0,"t":8.2,"r":0.2,"a":4.9,"b":8.0},
      {"g":1,"p":8.2,"t":-3.9,"r":-12.1,"a":5.1,"b":8.2},
      {"g":1,"p":8.4,"t":2.3,"r":-6.1,"a":5.3,"b":8.4},
      {"g":1,"p":8.8,"t":6.9,"r":-1.9,"a":5.7,"b":8.8},
      {"g":1,"p":5.3,"t":3.1,"r":-2.2,"a":2.2,"b":5.3},
      {"g":1,"p":5.7,"t":-0.1,"r":-5.8,"a":2.6,"b":5.7},
      {"g":1,"p":6.5,"t":0.9,"r":-5.6,"a":3.4,"b":6.5,"w":2},
      {"g":1,"p":6.9,"t":3.4,"r":-3.5,"a":3.8,"b":6.9,"w":2},
      {"g":1,"p":7.3,"t":2.1,"r":-5.2,"a":4.2,"b":7.3},
      {"g":1,"p":5.9,"t":5.0,"r":-0.9,"a":2.8,"b":5.9},
      {"g":1,"p":6.2,"t":-4.4,"r":-10.6,"a":3.1,"b":6.2},
      {"g":1,"p":7.0,"t":9.1,"r":2.1,"a":3.9,"b":7.0},
      {"g":1,"p":4.6,"t":3.8,"r":-0.8,"a":1.5,"b":4.6},
      {"g":1,"p":4.3,"t":-3.6,"r":-7.9,"a":1.2,"b":4.3},
      {"g":1,"p":4.9,"t":-1.2,"r":-6.1,"a":1.8,"b":4.9},
      {"g":1,"p":4.0,"t":2.9,"r":-1.1,"a":0.9,"b":4.0},
      {"g":1,"p":3.7,"t":0.3,"r":-3.4,"a":0.6,"b":3.7},
      {"g":1,"p":5.1,"t":6.8,"r":1.7,"a":2.0,"b":5.1},
      {"g":1,"p":7.8,"t":10.1,"r":2.3,"a":4.7,"b":7.8},
      {"g":1,"p":9.1,"t":9.6,"r":0.5,"a":6.0,"b":9.1},
      {"g":1,"p":8.6,"t":-5.2,"r":-13.8,"a":5.5,"b":8.6},
      {"g":1,"p":9.5,"t":-0.9,"r":-10.4,"a":6.4,"b":9.5}
    ]
  },
  "concat": [
    {
      "title": "Continuous Accuracy Plot",
      "width": 406,
      "height": 395,
      "layer": [
        {
          "data": {"name": "pts"},
          "mark": {"type": "circle", "size": 36},
          "encoding": {
            "x": {"field": "p", "type": "quantitative", "scale": {"domain": [-13.13, 12.02], "nice": false, "zero": false}, "axis": {"values": [-10, -5, 0, 5, 10], "title": "Predicted values"}},
            "y": {"field": "t", "type": "quantitative", "scale": {"domain": [-45.7, 53.0], "nice": false, "zero": false}, "axis": {"values": [-40, -20, 0, 20, 40], "title": "True values"}},
            "color": {"field": "g", "type": "nominal", "scale": {"domain": [0, 1], "range": ["#1f77b4", "#ff7f0e"]}, "legend": null},
            "opacity": {"condition": [{"test": "datum.w >= 4", "value": 0.9}, {"test": "datum.w >= 2", "value": 0.6}], "value": 0.38}
          }
        },
        {
          "data": {"name": "lineA"},
          "mark": {"type": "line", "color": "gray", "strokeDash": [5.5, 2.4], "strokeWidth": 1.5},
          "encoding": {"x": {"field": "x", "type": "quantitative"}, "y": {"field": "y", "type": "quantitative"}}
        },
        {
          "data": {"name": "blank"},
          "mark": {"type": "point", "filled": true, "opacity": 0},
          "encoding": {
            "fill": {"field": "x", "type": "nominal", "scale": {"domain": ["R² = 0.15", "x=y", 0, 1], "range": ["transparent", "transparent", "#bcd6e8", "#ffd9b7"]}, "legend": {"title": null, "orient": "top-right", "symbolOpacity": 1, "labelExpr": "isString(datum.value) ? datum.value : 'treatment=' + datum.value"}},
            "stroke": {"field": "x", "type": "nominal", "scale": {"domain": ["R² = 0.15", "x=y", 0, 1], "range": ["transparent", "gray", "transparent", "transparent"]}, "legend": {"title": null, "orient": "top-right", "symbolOpacity": 1, "labelExpr": "isString(datum.value) ? datum.value : 'treatment=' + datum.value"}},
            "shape": {"field": "x", "type": "nominal", "scale": {"domain": ["R² = 0.15", "x=y", 0, 1], "range": ["M-0.38,0A0.38,0.38,0,1,0,0.38,0A0.38,0.38,0,1,0,-0.38,0Z", "stroke", "M-0.38,0A0.38,0.38,0,1,0,0.38,0A0.38,0.38,0,1,0,-0.38,0Z", "M-0.38,0A0.38,0.38,0,1,0,0.38,0A0.38,0.38,0,1,0,-0.38,0Z"]}, "legend": {"title": null, "orient": "top-right", "symbolOpacity": 1, "labelExpr": "isString(datum.value) ? datum.value : 'treatment=' + datum.value"}},
            "strokeDash": {"field": "x", "type": "nominal", "scale": {"domain": ["R² = 0.15", "x=y", 0, 1], "range": [[1, 0], [5.5, 2.4], [1, 0], [1, 0]]}, "legend": {"title": null, "orient": "top-right", "symbolOpacity": 1, "labelExpr": "isString(datum.value) ? datum.value : 'treatment=' + datum.value"}}
          }
        }
      ]
    },
    {
      "title": "Predicted Common Support",
      "width": 406,
      "height": 395,
      "layer": [
        {
          "data": {"name": "pts"},
          "mark": {"type": "circle", "size": 36},
          "encoding": {
            "x": {"field": "a", "type": "quantitative", "scale": {"domain": [-12.98, 8.67], "nice": false, "zero": false}, "axis": {"values": [-12.5, -10, -7.5, -5, -2.5, 0, 2.5, 5, 7.5], "format": ".1f", "title": "Predicted Y⁰"}},
            "y": {"field": "b", "type": "quantitative", "scale": {"domain": [-10.8, 10.86], "nice": false, "zero": false}, "axis": {"values": [-10, -7.5, -5, -2.5, 0, 2.5, 5, 7.5, 10], "format": ".1f", "title": "Predicted Y¹"}},
            "color": {"field": "g", "type": "nominal", "scale": {"domain": [0, 1], "range": ["#1f77b4", "#ff7f0e"]}, "legend": null},
            "opacity": {"condition": [{"test": "datum.w >= 4", "value": 0.9}, {"test": "datum.w >= 2", "value": 0.6}], "value": 0.38}
          }
        },
        {
          "data": {"name": "lineB"},
          "mark": {"type": "line", "color": "gray", "strokeDash": [5.5, 2.4], "strokeWidth": 1.5},
          "encoding": {"x": {"field": "x", "type": "quantitative"}, "y": {"field": "y", "type": "quantitative"}}
        },
        {
          "data": {"name": "blank"},
          "mark": {"type": "point", "filled": true, "opacity": 0},
          "encoding": {
            "fill": {"field": "x", "type": "nominal", "scale": {"domain": ["mean effect=3.1", "x=y", 0, 1], "range": ["transparent", "transparent", "#bcd6e8", "#ffd9b7"]}, "legend": {"title": null, "orient": "top-left", "symbolOpacity": 1, "labelExpr": "isString(datum.value) ? datum.value : 'treatment=' + datum.value"}},
            "stroke": {"field": "x", "type": "nominal", "scale": {"domain": ["mean effect=3.1", "x=y", 0, 1], "range": ["transparent", "gray", "transparent", "transparent"]}, "legend": {"title": null, "orient": "top-left", "symbolOpacity": 1, "labelExpr": "isString(datum.value) ? datum.value : 'treatment=' + datum.value"}},
            "shape": {"field": "x", "type": "nominal", "scale": {"domain": ["mean effect=3.1", "x=y", 0, 1], "range": ["M-0.38,0A0.38,0.38,0,1,0,0.38,0A0.38,0.38,0,1,0,-0.38,0Z", "stroke", "M-0.38,0A0.38,0.38,0,1,0,0.38,0A0.38,0.38,0,1,0,-0.38,0Z", "M-0.38,0A0.38,0.38,0,1,0,0.38,0A0.38,0.38,0,1,0,-0.38,0Z"]}, "legend": {"title": null, "orient": "top-left", "symbolOpacity": 1, "labelExpr": "isString(datum.value) ? datum.value : 'treatment=' + datum.value"}},
            "strokeDash": {"field": "x", "type": "nominal", "scale": {"domain": ["mean effect=3.1", "x=y", 0, 1], "range": [[1, 0], [5.5, 2.4], [1, 0], [1, 0]]}, "legend": {"title": null, "orient": "top-left", "symbolOpacity": 1, "labelExpr": "isString(datum.value) ? datum.value : 'treatment=' + datum.value"}}
          }
        }
      ]
    },
    {
      "title": "Residual Plot",
      "width": 406,
      "height": 395,
      "layer": [
        {
          "data": {"name": "pts"},
          "mark": {"type": "circle", "size": 36},
          "encoding": {
            "x": {"field": "p", "type": "quantitative", "scale": {"domain": [-11.83, 10.87], "nice": false, "zero": false}, "axis": {"values": [-10, -5, 0, 5, 10], "title": "Predicted values"}},
            "y": {"field": "r", "type": "quantitative", "scale": {"domain": [-46.5, 49.1], "nice": false, "zero": false}, "axis": {"values": [-40, -20, 0, 20, 40], "title": "Prediction residuals"}},
            "color": {
              "field": "g", "type": "nominal",
              "scale": {"domain": [0, 1], "range": ["#1f77b4", "#ff7f0e"]},
              "legend": {"title": null, "orient": "top-left", "symbolType": "circle", "symbolSize": 40, "symbolOpacity": 0.3, "symbolStrokeWidth": 0, "rowPadding": 3.5, "symbolOffset": 7.2, "labelOffset": 15, "labelExpr": "'treatment=' + datum.value"}
            },
            "opacity": {"condition": [{"test": "datum.w >= 4", "value": 0.9}, {"test": "datum.w >= 2", "value": 0.6}], "value": 0.38}
          }
        },
        {
          "mark": {"type": "rule", "color": "gray", "opacity": 0.75, "strokeDash": [5.5, 2.4], "strokeWidth": 1.5},
          "encoding": {"y": {"datum": 0}}
        }
      ]
    },
    {
      "width": 406,
      "height": 395,
      "data": {"name": "blank"},
      "mark": {"type": "point", "opacity": 0},
      "encoding": {
        "x": {"field": "x", "type": "quantitative", "scale": {"domain": [0, 1], "nice": false, "zero": false}, "axis": {"values": [0, 0.2, 0.4, 0.6, 0.8, 1], "format": ".1f", "title": null}},
        "y": {"field": "y", "type": "quantitative", "scale": {"domain": [0, 1], "nice": false, "zero": false}, "axis": {"values": [0, 0.2, 0.4, 0.6, 0.8, 1], "format": ".1f", "title": null}}
      }
    }
  ],
  "config": {
    "font": "DejaVu Sans",
    "view": {"stroke": "black", "strokeWidth": 1},
    "axis": {
      "domain": false, "grid": false, "ticks": true, "tickSize": 3.5, "tickColor": "black", "tickWidth": 0.8,
      "labelFont": "DejaVu Sans", "labelFontSize": 10, "labelColor": "black", "labelFlush": false, "labelOverlap": false, "labelBound": false,
      "titleFont": "DejaVu Sans", "titleFontSize": 10, "titleFontWeight": "normal", "titleColor": "black"
    },
    "axisX": {"labelPadding": 4.5, "titlePadding": 4.5},
    "axisY": {"labelPadding": 3.5, "titlePadding": 4},
    "title": {"font": "DejaVu Sans", "fontSize": 12, "fontWeight": "normal", "color": "black", "offset": 3},
    "legend": {
      "labelFont": "DejaVu Sans", "labelFontSize": 10, "labelColor": "black",
      "padding": 3, "rowPadding": 0, "symbolSize": 300, "symbolOffset": 2.3, "labelOffset": 10, "symbolStrokeWidth": 1.5,
      "strokeColor": "#cccccc", "fillColor": "rgba(255,255,255,0.8)", "cornerRadius": 2, "offset": 5
    }
  }
}
